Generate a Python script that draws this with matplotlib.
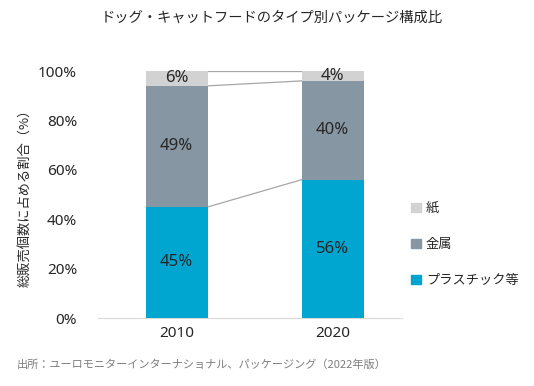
import matplotlib
matplotlib.use('Agg')
import matplotlib.pyplot as plt
import matplotlib.patches as mpatches
import matplotlib.ticker as mticker
import numpy as np

# ── Data ──────────────────────────────────────────────────────────────────────
years    = ['2010', '2020']
plastic  = [45, 56]
metal    = [49, 40]
paper    = [6, 4]

# ── Style ─────────────────────────────────────────────────────────────────────
C_PLASTIC = '#00A6D0'
C_METAL   = '#8796A3'
C_PAPER   = '#D2D2D2'
C_LINE    = '#A6A6A6'
TEXT      = '#262626'
NUM_FONT  = ['Noto Sans', 'Noto Sans CJK JP', 'DejaVu Sans']

plt.rcParams['font.family'] = ['Noto Sans CJK JP', 'DejaVu Sans']

fig = plt.figure(figsize=(5.34, 3.86), dpi=100)
ax = fig.add_axes([0.1835, 0.176, 0.5695, 0.64])

x = np.arange(len(years))
w = 0.4
bottoms2 = np.array(plastic) + np.array(metal)

ax.bar(x, plastic, width=w, color=C_PLASTIC, zorder=3)
ax.bar(x, metal, width=w, bottom=plastic, color=C_METAL, zorder=3)
ax.bar(x, paper, width=w, bottom=bottoms2, color=C_PAPER, zorder=3)

# series lines between bars
tops = [np.array(plastic), bottoms2, bottoms2 + np.array(paper)]
for t in tops:
    ax.plot([x[0] + w / 2, x[1] - w / 2], [t[0], t[1]], color=C_LINE,
            linewidth=0.9, zorder=2)

# data labels
for i in range(len(years)):
    ax.text(x[i], plastic[i] / 2, f'{plastic[i]}%', ha='center', va='center',
            fontsize=12, color=TEXT, zorder=4, family=NUM_FONT)
    ax.text(x[i], plastic[i] + metal[i] / 2, f'{metal[i]}%', ha='center',
            va='center', fontsize=12, color=TEXT, zorder=4, family=NUM_FONT)
    ax.text(x[i], bottoms2[i] + paper[i] / 2, f'{paper[i]}%', ha='center',
            va='center', fontsize=12, color=TEXT, zorder=4, family=NUM_FONT)

ax.set_xlim(-0.505, 1.445)
ax.set_ylim(0, 100)
ax.set_xticks(x)
ax.set_xticklabels(years, fontsize=11, color=TEXT, family=NUM_FONT)
ax.set_yticks(np.arange(0, 101, 20))
ax.yaxis.set_major_formatter(mticker.FuncFormatter(lambda v, _: f'{int(v)}%'))
for lbl in ax.get_yticklabels():
    lbl.set_family(NUM_FONT)
ax.tick_params(axis='y', length=0, labelsize=11, labelcolor=TEXT, pad=15)
ax.tick_params(axis='x', length=0, pad=6)
for s in ['top', 'right', 'left']:
    ax.spines[s].set_visible(False)
ax.spines['bottom'].set_color('#D9D9D9')

ax.set_ylabel('総販売個数に占める割合（%）', fontsize=9.5, color=TEXT, labelpad=4)

fig.text(0.508, 0.953, 'ドッグ・キャットフードのタイプ別パッケージ構成比',
         ha='center', va='center', fontsize=10.3, color=TEXT)

handles = [mpatches.Patch(color=C_PAPER, label='紙'),
           mpatches.Patch(color=C_METAL, label='金属'),
           mpatches.Patch(color=C_PLASTIC, label='プラスチック等')]
fig.legend(handles=handles, loc='center left', bbox_to_anchor=(0.748, 0.366),
           frameon=False, fontsize=9.5, handlelength=0.7, handleheight=0.7,
           handletextpad=0.4, labelspacing=1.75, labelcolor=TEXT)

fig.text(0.032, 0.055, '出所：ユーロモニターインターナショナル、パッケージング（2022年版）',
         ha='left', va='center', fontsize=8, color='#7F7F7F')

fig.savefig('out.png', dpi=100)
